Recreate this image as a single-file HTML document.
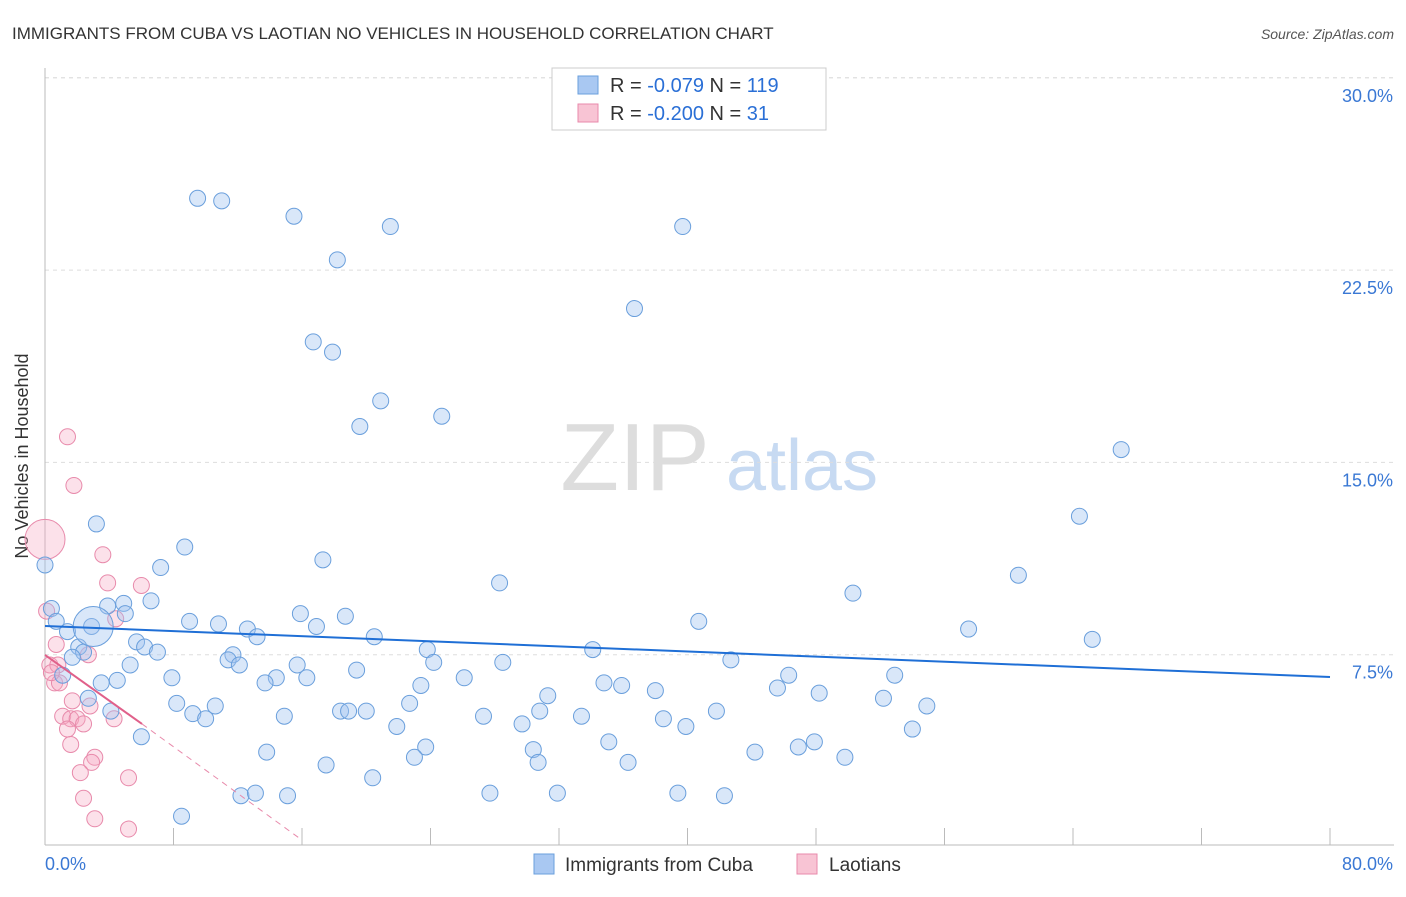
<!DOCTYPE html>
<html><head><meta charset="utf-8"><style>
body{margin:0;background:#fff;font-family:"Liberation Sans",sans-serif;}
svg text{font-family:"Liberation Sans",sans-serif;}
</style></head><body>
<svg width="1406" height="892" viewBox="0 0 1406 892" id="chart">
<text x="12" y="39" font-size="17" fill="#333">IMMIGRANTS FROM CUBA VS LAOTIAN NO VEHICLES IN HOUSEHOLD CORRELATION CHART</text>
<text x="1394" y="39" font-size="14" fill="#555" font-style="italic" text-anchor="end">Source: ZipAtlas.com</text>
<text x="28" y="456" font-size="18" fill="#333" text-anchor="middle" transform="rotate(-90 28 456)">No Vehicles in Household</text>
<g>
<text x="635" y="490" font-size="96" fill="#ddd" font-family="Liberation Serif" text-anchor="middle">ZIP</text>
<text x="802" y="490" font-size="72" fill="#c7daf2" text-anchor="middle">atlas</text>
</g>
<g id="grid"></g><g id="axes"></g><g id="marks"></g>
<g>
<rect x="552" y="68" width="274" height="62" fill="#fff" stroke="#ccc"/>
<rect x="578" y="76" width="20" height="18" fill="#a9c8f2" stroke="#6a9fdc"/>
<text x="610" y="92" font-size="20" fill="#333">R = <tspan fill="#2a6fd6">-0.079</tspan>   N = <tspan fill="#2a6fd6">119</tspan></text>
<rect x="578" y="104" width="20" height="18" fill="#f8c4d4" stroke="#e88aab"/>
<text x="610" y="120" font-size="20" fill="#333">R = <tspan fill="#2a6fd6">-0.200</tspan>   N =  <tspan fill="#2a6fd6"> 31</tspan></text>
</g>
<g>
<rect x="534" y="854" width="20" height="20" fill="#a9c8f2" stroke="#6a9fdc"/>
<text x="565" y="871" font-size="19" fill="#333">Immigrants from Cuba</text>
<rect x="797" y="854" width="20" height="20" fill="#f8c4d4" stroke="#e88aab"/>
<text x="829" y="871" font-size="19" fill="#333">Laotians</text>
</g>
</svg>
<script>
const yTicks=[7.5,15,22.5,30];
const yTickLabels=["7.5%","15.0%","22.5%","30.0%"];
const xTicks=[0,8,16,24,32,40,48,56,64,72,80];
const cubaX=[9.5,11.0,15.5,21.5,39.7,18.2,36.7,16.7,17.9,20.9,19.6,24.7,67.0,3.2,64.4,8.7,17.3,7.2,60.6,28.3,50.3,0.4,3.9,4.9,6.6,5.0,15.9,18.7,0.7,9.0,10.8,16.9,2.9,40.7,57.5,12.6,1.4,13.2,20.5,65.2,5.7,6.2,2.1,2.4,7.0,23.8,34.1,1.7,11.7,11.4,12.1,24.2,28.5,42.7,5.3,15.7,19.4,46.3,52.9,1.1,7.9,4.5,14.4,16.3,26.1,3.5,13.7,23.4,34.8,35.9,45.6,38.0,31.3,48.2,2.7,8.2,10.6,22.7,52.2,4.1,9.2,18.4,18.9,20.0,30.8,54.9,41.8,10.0,14.9,27.3,33.4,38.5,21.9,29.7,39.9,54.0,6.0,35.1,23.7,13.8,47.9,46.9,44.2,30.4,23.0,49.8,30.7,36.3,17.5,20.4,27.7,31.9,12.2,13.1,15.1,39.4,42.3,8.5,3.0,0];
const cubaY=[25.3,25.2,24.6,24.2,24.2,22.9,21.0,19.7,19.3,17.4,16.4,16.8,15.5,12.6,12.9,11.7,11.2,10.9,10.6,10.3,9.9,9.3,9.4,9.5,9.6,9.1,9.1,9.0,8.8,8.8,8.7,8.6,8.6,8.8,8.5,8.5,8.4,8.2,8.2,8.1,8.0,7.8,7.8,7.6,7.6,7.7,7.7,7.4,7.5,7.3,7.1,7.2,7.2,7.3,7.1,7.1,6.9,6.7,6.7,6.7,6.6,6.5,6.6,6.6,6.6,6.4,6.4,6.3,6.4,6.3,6.2,6.1,5.9,6.0,5.8,5.6,5.5,5.6,5.8,5.3,5.2,5.3,5.3,5.3,5.3,5.5,5.3,5.0,5.1,5.1,5.1,5.0,4.7,4.8,4.7,4.6,4.3,4.1,3.9,3.7,4.1,3.9,3.7,3.8,3.5,3.5,3.3,3.3,3.2,2.7,2.1,2.1,2.0,2.1,2.0,2.1,2.0,1.2,8.6,11.0];
const cubaBig=[119];
const laoX=[1.4,1.8,3.6,3.9,6.0,0.1,4.4,0.7,2.7,0.3,0.8,0.6,0.9,1.7,1.1,2.8,1.6,2.0,2.4,4.3,1.4,1.6,3.1,2.9,2.2,5.2,2.4,3.1,5.2,0.4,0];
const laoY=[16.0,14.1,11.4,10.3,10.2,9.2,8.9,7.9,7.5,7.1,7.1,6.4,6.4,5.7,5.1,5.5,5.0,5.0,4.8,5.0,4.6,4.0,3.5,3.3,2.9,2.7,1.9,1.1,0.7,6.8,12.0];
const cubaTrend=[8.62,6.63]; // y at x=0 and x=80
const laoTrend=[7.49,4.80,0.27]; // y at x=0, 6.04, 16
const laoTrendX=[0,6.04,16];
const X=v=>45+v/80*1285, Y=v=>847-v/7.5*192.3;
const NS='http://www.w3.org/2000/svg';
function mk(tag,attrs,parent){const e=document.createElementNS(NS,tag);for(const k in attrs)e.setAttribute(k,attrs[k]);document.getElementById(parent).appendChild(e);return e;}
let g=mk('line',{x1:45,x2:1394,y1:Y(30),y2:Y(30),stroke:'#ddd','stroke-dasharray':'4 4'},'grid');


yTicks.forEach((t,i)=>{
 const l=mk('line',{x1:45,x2:1394,y1:Y(t),y2:Y(t),stroke:'#ddd','stroke-dasharray':'4 4'},'grid');
 
 
 const tx=mk('text',{x:1393,y:Y(t)+24,'font-size':18,fill:'#3a78d4','text-anchor':'end'},'axes');
 tx.textContent=yTickLabels[i];
 
 
});
let ax=mk('line',{x1:45,x2:45,y1:68,y2:845,stroke:'#bbb'},'axes');


ax=mk('line',{x1:45,x2:1394,y1:845,y2:845,stroke:'#bbb'},'axes');


xTicks.forEach(t=>{const l=mk('line',{x1:X(t),x2:X(t),y1:828,y2:845,stroke:'#bbb'},'axes');
 
 });
let xl=mk('text',{x:45,y:870,'font-size':18,fill:'#3a78d4'},'axes');xl.textContent='0.0%';


xl=mk('text',{x:1393,y:870,'font-size':18,fill:'#3a78d4','text-anchor':'end'},'axes');xl.textContent='80.0%';


laoX.forEach((x,i)=>{const c=mk('circle',{cx:X(x),cy:Y(laoY[i]),r:i==laoX.length-1?20:8,fill:'rgba(246,170,196,0.35)',stroke:'#e88aab','stroke-width':1},'marks');
 
 });
cubaX.forEach((x,i)=>{const c=mk('circle',{cx:X(x),cy:Y(cubaY[i]),r:i==cubaBig[0]-1?20:8,fill:'rgba(160,195,240,0.4)',stroke:'#6a9fdc','stroke-width':1},'marks');
 
 });
let t=mk('line',{x1:X(0),y1:Y(cubaTrend[0]),x2:X(80),y2:Y(cubaTrend[1]),stroke:'#1f6fd6','stroke-width':2},'marks');


t=mk('line',{x1:X(laoTrendX[0]),y1:Y(laoTrend[0]),x2:X(laoTrendX[1]),y2:Y(laoTrend[1]),stroke:'#e0608a','stroke-width':2},'marks');


t=mk('line',{x1:X(laoTrendX[1]),y1:Y(laoTrend[1]),x2:X(laoTrendX[2]),y2:Y(laoTrend[2]),stroke:'#e88aab','stroke-width':1,'stroke-dasharray':'6 5'},'marks');


</script>
</body></html>
